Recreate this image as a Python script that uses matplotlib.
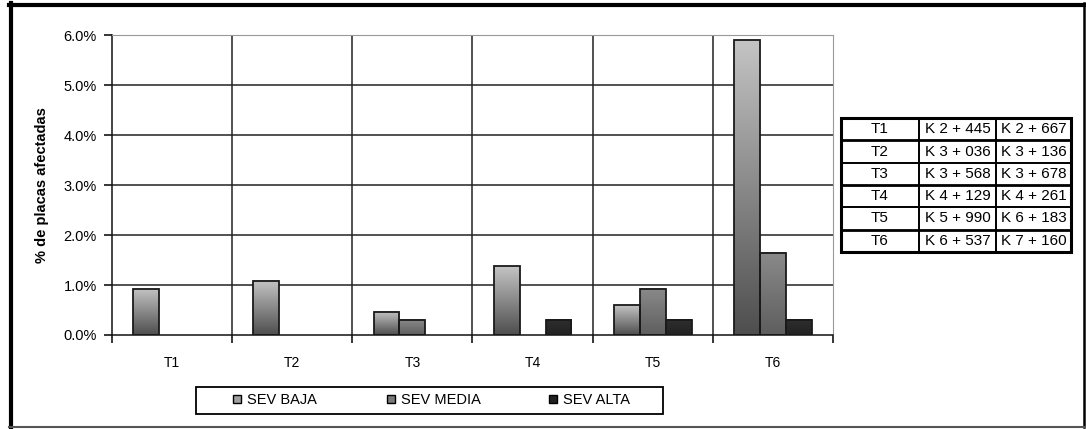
import numpy as np
import matplotlib.pyplot as plt
from matplotlib.patches import Rectangle
from matplotlib.ticker import PercentFormatter
from matplotlib.colors import LinearSegmentedColormap

plt.rcParams["font.family"] = ["Liberation Sans", "DejaVu Sans"]

# Datos
tramos = ["T1", "T2", "T3", "T4", "T5", "T6"]
sev_baja = [0.93, 1.09, 0.47, 1.38, 0.60, 5.90]
sev_media = [0.0, 0.0, 0.31, 0.0, 0.93, 1.65]
sev_alta = [0.0, 0.0, 0.0, 0.31, 0.31, 0.31]
series_nombres = ["SEV BAJA", "SEV MEDIA", "SEV ALTA"]

tabla_inicio = ["K 2 + 445", "K 3 + 036", "K 3 + 568", "K 4 + 129", "K 5 + 990", "K 6 + 537"]
tabla_fin = ["K 2 + 667", "K 3 + 136", "K 3 + 678", "K 4 + 261", "K 6 + 183", "K 7 + 160"]

# gradientes (arriba -> abajo)
gradientes = [("#c4c4c4", "#4e4e4e"), ("#8a8a8a", "#5e5e5e"), ("#2e2e2e", "#222222")]
colores_leyenda = ["#a0a0a0", "#7a7a7a", "#222222"]

W, H = 1086, 429
fig = plt.figure(figsize=(W / 100, H / 100), dpi=100)
ax = fig.add_axes([112 / W, 1 - 335 / H, (833 - 112) / W, (335 - 35.3) / H])

n = len(tramos)
x = np.arange(n)
ancho = 0.215

# cuadrícula
for yv in np.arange(1, 6):
    ax.axhline(yv, color="#222222", lw=1.1, zorder=1)
for xv in np.arange(0.5, n - 0.5, 1):
    ax.axvline(xv, color="#222222", lw=1.1, zorder=1)

datos = [sev_baja, sev_media, sev_alta]
grad = np.linspace(0, 1, 256).reshape(-1, 1)
for k, valores in enumerate(datos):
    cmap = LinearSegmentedColormap.from_list("g%d" % k, [gradientes[k][1], gradientes[k][0]])
    for i, v in enumerate(valores):
        if v <= 0:
            continue
        x0 = x[i] + (k - 1) * ancho - ancho / 2
        ax.imshow(grad, cmap=cmap, origin="lower", aspect="auto",
                  extent=(x0, x0 + ancho, 0, v), zorder=2, interpolation="bilinear")
        ax.add_patch(Rectangle((x0, 0), ancho, v, facecolor="none",
                               edgecolor="#1a1a1a", lw=1.3, zorder=3))

ax.set_xlim(-0.5, n - 0.5)
ax.set_ylim(0, 6.0)
ax.yaxis.set_major_formatter(PercentFormatter(decimals=1))
ax.set_yticks(np.arange(0, 7, 1))
ax.set_xticks(x)
ax.set_xticklabels(tramos)
ax.set_xticks(np.arange(-0.5, n, 1), minor=True)
ax.tick_params(axis="x", which="major", length=0, pad=15, labelsize=10)
ax.tick_params(axis="x", which="minor", length=6, width=1.1, direction="out")
ax.tick_params(axis="y", length=6, width=1.1, direction="out", pad=5, labelsize=10.5)

ax.spines["left"].set_color("#111111")
ax.spines["bottom"].set_color("#111111")
ax.spines["left"].set_linewidth(1.1)
ax.spines["bottom"].set_linewidth(1.1)
ax.spines["top"].set_color("#999999")
ax.spines["right"].set_color("#999999")
ax.set_ylabel("% de placas afectadas", fontsize=10.5, fontweight="bold", labelpad=10)

# tabla de referencias
tx0, tx1, tx2, tx3 = 841 / W, 919 / W, 996 / W, 1071 / W
ty_top, ty_bot = 1 - 118 / H, 1 - 252 / H
alto = (ty_top - ty_bot) / n
for i in range(n):
    yc = ty_top - (i + 0.5) * alto
    fig.text((tx0 + tx1) / 2, yc, tramos[i], ha="center", va="center", fontsize=11)
    fig.text((tx1 + tx2) / 2, yc, tabla_inicio[i], ha="center", va="center", fontsize=11)
    fig.text((tx2 + tx3) / 2, yc, tabla_fin[i], ha="center", va="center", fontsize=11)
    if i > 0:
        fig.add_artist(plt.Line2D([tx0, tx3], [ty_top - i * alto] * 2, color="black",
                                  lw=2.0 if i % 2 else 1.4, transform=fig.transFigure))
for xv in (tx1, tx2):
    fig.add_artist(plt.Line2D([xv, xv], [ty_bot, ty_top], color="black", lw=1.4,
                              transform=fig.transFigure))
fig.add_artist(Rectangle((tx0, ty_bot), tx3 - tx0, ty_top - ty_bot, fill=False,
                         edgecolor="black", lw=2.2, transform=fig.transFigure))

# leyenda (dibujada a mano para fijar posiciones)
fig.add_artist(Rectangle((196 / W, 1 - 414 / H), (663 - 196) / W, 27 / H, fill=False,
                         edgecolor="black", lw=1.3, transform=fig.transFigure))
marcas_x = [233, 387, 549]
yc_leg = 1 - 399.5 / H
for mx, color, nombre in zip(marcas_x, colores_leyenda, series_nombres):
    fig.add_artist(Rectangle((mx / W, yc_leg - 3.5 / H), 8 / W, 8 / H, facecolor=color,
                             edgecolor="black", lw=1.0, transform=fig.transFigure))
    fig.text((mx + 14) / W, yc_leg, nombre, ha="left", va="center", fontsize=10.5)

# marco exterior
fig.add_artist(plt.Line2D([11 / W, 11 / W], [1 - 3 / H, 1 - 427 / H], color="black", lw=3,
                          transform=fig.transFigure))
fig.add_artist(plt.Line2D([9 / W, 1085 / W], [1 - 5 / H, 1 - 5 / H], color="black", lw=3,
                          transform=fig.transFigure))
fig.add_artist(plt.Line2D([1084 / W, 1084 / W], [1 - 3 / H, 1 - 427 / H], color="black", lw=1.8,
                          transform=fig.transFigure))
fig.add_artist(plt.Line2D([9 / W, 1085 / W], [1 - 426.5 / H, 1 - 426.5 / H], color="#555555",
                          lw=1.5, transform=fig.transFigure))

fig.savefig("out.png", dpi=100)
